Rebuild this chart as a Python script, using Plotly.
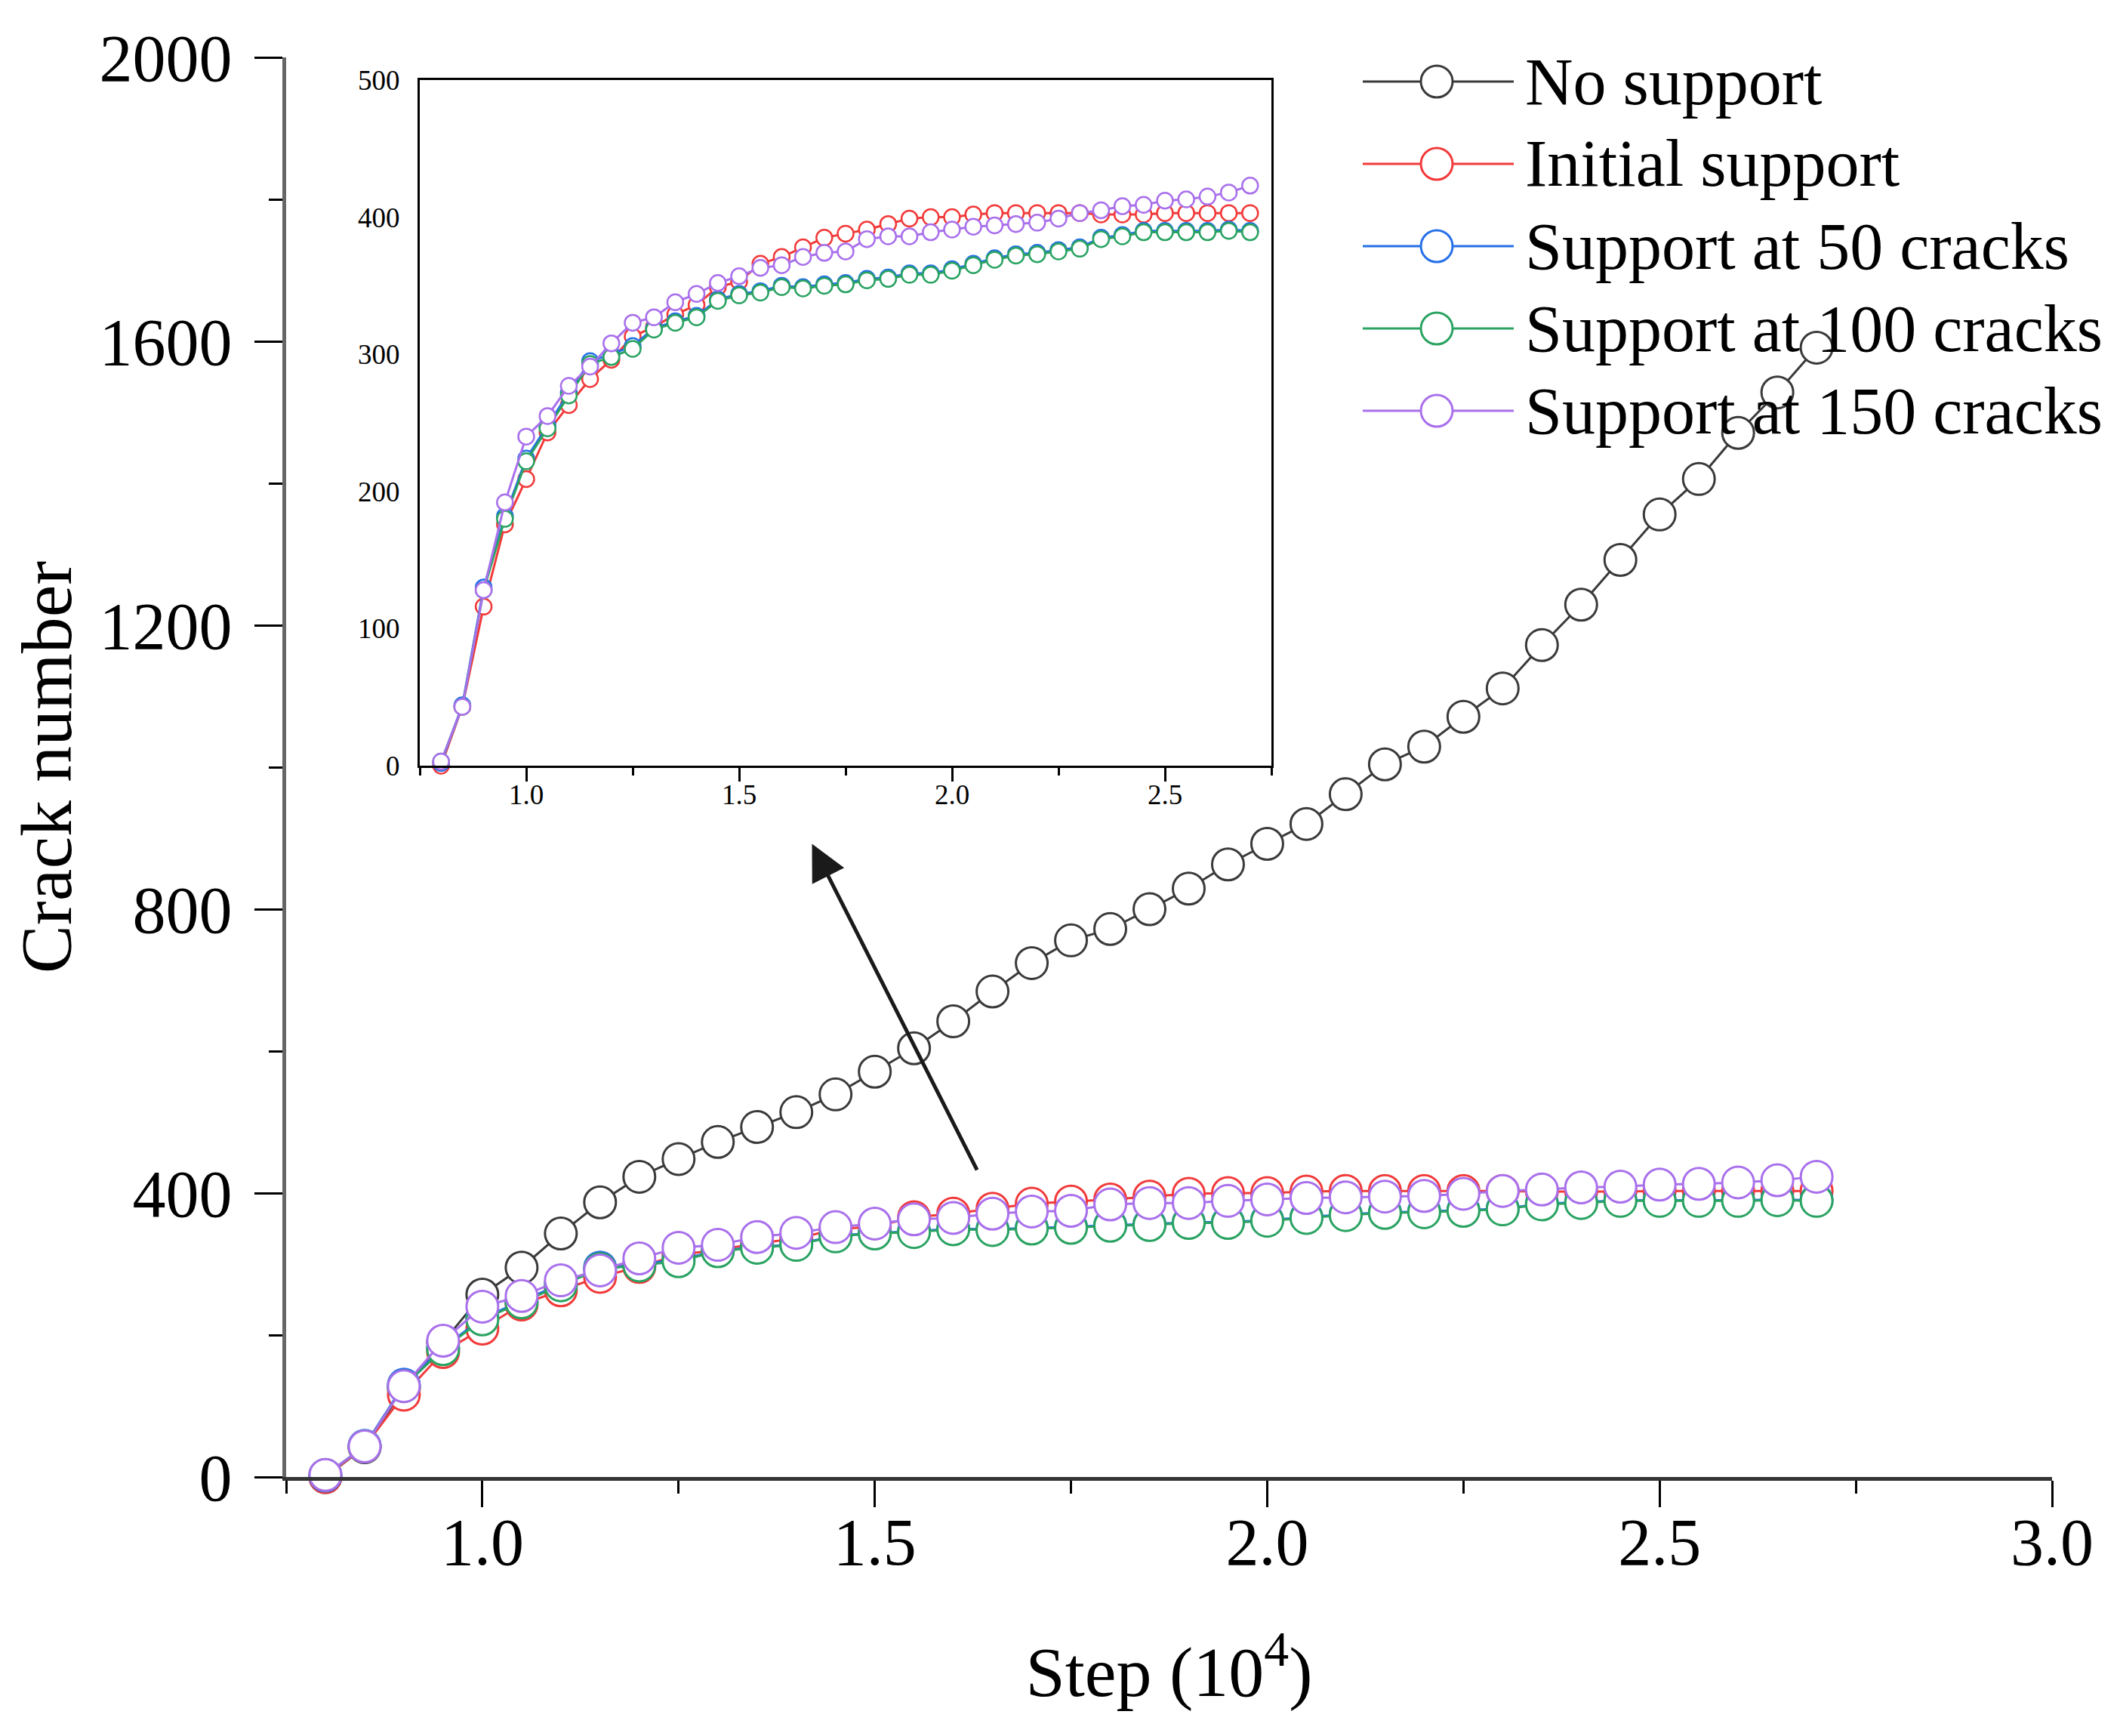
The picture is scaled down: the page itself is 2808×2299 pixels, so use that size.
import plotly.graph_objects as go

# ---------------- data ----------------
steps = [0.80, 0.85, 0.90, 0.95, 1.00, 1.05, 1.10, 1.15, 1.20, 1.25,
         1.30, 1.35, 1.40, 1.45, 1.50, 1.55, 1.60, 1.65, 1.70, 1.75,
         1.80, 1.85, 1.90, 1.95, 2.00, 2.05, 2.10, 2.15, 2.20, 2.25,
         2.30, 2.35, 2.40, 2.45, 2.50, 2.55, 2.60, 2.65, 2.70]

no_support = [0, 42, 125, 190, 257, 295, 343, 387, 423, 448,
              472, 493, 514, 539, 571, 604, 642, 684, 724, 756,
              772, 800, 829, 863, 892, 920, 962, 1004, 1029, 1071,
              1111, 1172, 1229, 1292, 1356, 1406, 1471, 1528, 1591]

initial_support = [0, 43, 116, 176, 209, 243, 263, 282, 296, 313,
                   320, 329, 336, 349, 353, 366, 371, 378, 385, 388,
                   391, 395, 399, 400, 400, 402, 403, 403, 403, 403,
                   403, 402, 402, 402, 403, 403, 403, 403, 403]

support_50 = [2, 44, 130, 182, 224, 248, 272, 295, 300, 306,
              319, 324, 328, 340, 344, 346, 350, 349, 351, 352,
              355, 356, 359, 359, 362, 366, 370, 373, 374, 376,
              378, 385, 387, 390, 390, 390, 390, 391, 390]

support_100 = [3, 43, 128, 180, 222, 246, 270, 293, 298, 304,
               318, 323, 327, 339, 343, 345, 349, 348, 350, 351,
               354, 355, 358, 358, 361, 365, 369, 372, 373, 375,
               377, 384, 386, 389, 389, 389, 389, 390, 389]

support_150 = [3, 43, 128, 192, 240, 255, 277, 291, 308, 323,
               327, 338, 344, 352, 357, 363, 365, 371, 374, 375,
               384, 386, 386, 389, 391, 393, 394, 395, 396, 399,
               403, 405, 408, 409, 412, 413, 415, 418, 423]

series_names = ["No support", "Initial support", "Support at 50 cracks",
                "Support at 100 cracks", "Support at 150 cracks"]
series_values = [no_support, initial_support, support_50, support_100, support_150]
series_colors = ["#3a3a3a", "#F23A3A", "#2670E8", "#2AA362", "#A970EC"]
inset_series = [1, 2, 3, 4]  # indices shown in the inset

main_xticks = [1.0, 1.5, 2.0, 2.5, 3.0]
main_yticks = [0, 400, 800, 1200, 1600, 2000]
inset_xticks = [1.0, 1.5, 2.0, 2.5]
inset_yticks = [0, 100, 200, 300, 400, 500]

# ---------------- layout constants ----------------
W, H = 2808, 2299
ML, MR, MT, MB = 371, 98, 68, 351
PW, PH = W - ML - MR, H - MT - MB
FONT = "Liberation Serif"


def px_x(p):
    return (p - ML) / PW


def px_y(p):
    return (H - MB - p) / PH


fig = go.Figure()

# main traces
for name, vals, col in zip(series_names, series_values, series_colors):
    fig.add_trace(go.Scatter(
        x=steps, y=vals, mode="lines+markers", name=name,
        line=dict(color=col, width=3),
        marker=dict(symbol="circle", size=42, color="white",
                    line=dict(color=col, width=3)),
        cliponaxis=False, showlegend=False, xaxis="x", yaxis="y"))

# inset traces
for i in inset_series:
    fig.add_trace(go.Scatter(
        x=steps, y=series_values[i], mode="lines+markers", name=series_names[i],
        line=dict(color=series_colors[i], width=3),
        marker=dict(symbol="circle", size=21, color="white",
                    line=dict(color=series_colors[i], width=2.5)),
        cliponaxis=False, showlegend=False, xaxis="x2", yaxis="y2"))

tickfont_main = dict(family=FONT, size=88, color="black")
tickfont_inset = dict(family=FONT, size=37, color="black")

fig.update_layout(
    width=W, height=H,
    margin=dict(l=ML, r=MR, t=MT, b=MB),
    paper_bgcolor="white", plot_bgcolor="white",
    showlegend=False,
    xaxis=dict(
        domain=[0, 1], range=[0.75, 3.0],
        tickvals=main_xticks, ticktext=[f"{v:.1f}" for v in main_xticks],
        ticks="outside", ticklen=35, tickwidth=3, tickcolor="black",
        minor=dict(dtick=0.25, tick0=0.75, ticks="outside", ticklen=17,
                   tickwidth=3, tickcolor="black", showgrid=False),
        showline=True, linecolor="#333333", linewidth=5,
        showgrid=False, zeroline=False,
        tickfont=tickfont_main, ticklabelstandoff=-30,
        title=dict(text="Step (10<sup>4</sup>)",
                   font=dict(family=FONT, size=94, color="black"),
                   standoff=92),
    ),
    yaxis=dict(
        domain=[0, 1], range=[0, 2000],
        tickvals=main_yticks, ticktext=[str(v) for v in main_yticks],
        ticks="outside", ticklen=37, tickwidth=3, tickcolor="black",
        minor=dict(dtick=200, tick0=0, ticks="outside", ticklen=18,
                   tickwidth=3, tickcolor="black", showgrid=False),
        showline=True, linecolor="#666666", linewidth=5,
        showgrid=False, zeroline=False,
        tickfont=tickfont_main, ticklabelstandoff=12,
        title=dict(text="Crack number",
                   font=dict(family=FONT, size=96, color="black"),
                   standoff=30),
    ),
    xaxis2=dict(
        domain=[px_x(548), px_x(1676)], range=[0.75, 2.75], anchor="y2",
        tickvals=inset_xticks, ticktext=[f"{v:.1f}" for v in inset_xticks],
        ticks="outside", ticklen=18, tickwidth=2.5, tickcolor="black",
        minor=dict(dtick=0.25, tick0=0.75, ticks="outside", ticklen=10,
                   tickwidth=2.5, tickcolor="black", showgrid=False),
        showline=True, mirror=True, linecolor="black", linewidth=3,
        showgrid=False, zeroline=False,
        tickfont=tickfont_inset, ticklabelstandoff=-14,
    ),
    yaxis2=dict(
        domain=[px_y(1006), px_y(98)], range=[0, 500], anchor="x2",
        tickvals=inset_yticks, ticktext=[str(v) for v in inset_yticks],
        ticks="",
        showline=True, mirror=True, linecolor="black", linewidth=3,
        showgrid=False, zeroline=False,
        tickfont=tickfont_inset, ticklabelstandoff=16,
    ),
)

# arrow pointing from the main curves to the inset
arrow_head = (1.420, 892)
arrow_tail = (1.631, 431)
fig.add_annotation(
    x=arrow_head[0], y=arrow_head[1], ax=arrow_tail[0], ay=arrow_tail[1],
    xref="x", yref="y", axref="x", ayref="y",
    text="", showarrow=True, arrowhead=2, arrowsize=1.9,
    arrowwidth=5, arrowcolor="#1a1a1a", standoff=0)

# custom legend (line + large open marker + label)
LEG_LINE_X0, LEG_LINE_X1, LEG_MARK_X, LEG_TEXT_X = 1797, 1997, 1895, 2010
LEG_ROW0, LEG_ROW_STEP = 100, 109
shapes = []
for i, (name, col) in enumerate(zip(series_names, series_colors)):
    yc = px_y(LEG_ROW0 + LEG_ROW_STEP * i)
    shapes.append(dict(type="line", xref="paper", yref="paper",
                       x0=px_x(LEG_LINE_X0), x1=px_x(LEG_LINE_X1), y0=yc, y1=yc,
                       line=dict(color=col, width=3)))
    shapes.append(dict(type="circle", xref="paper", yref="paper",
                       xsizemode="pixel", ysizemode="pixel",
                       xanchor=px_x(LEG_MARK_X), yanchor=yc,
                       x0=-21, x1=21, y0=-21, y1=21,
                       fillcolor="white", line=dict(color=col, width=3)))
    fig.add_annotation(x=px_x(LEG_TEXT_X), y=yc, xref="paper", yref="paper",
                       text=name, showarrow=False, xanchor="left", yanchor="middle",
                       font=dict(family=FONT, size=88, color="black"))
fig.update_layout(shapes=shapes)

fig.write_html("out.html")
